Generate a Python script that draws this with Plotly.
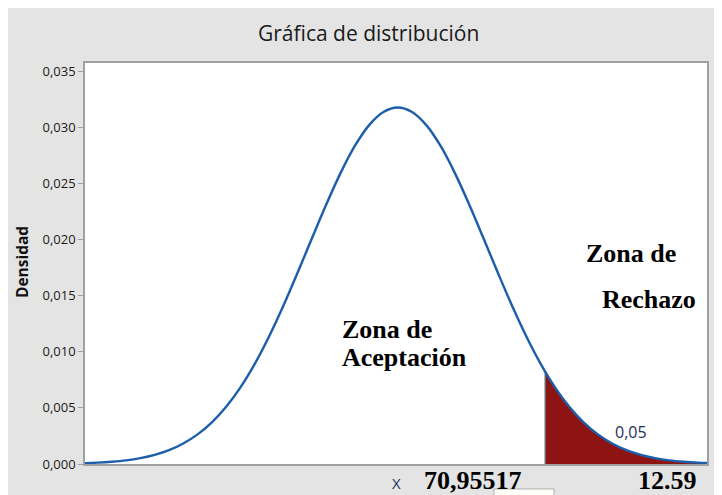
import plotly.graph_objects as go

# Curve values (x in variable units, density)
x_vals = [-44, -42, -40, -38, -36, -34, -32, -30, -28, -26, -24, -22, -20, -18, -16, -14, -12, -10, -8, -6, -4, -2,
          0, 2, 4, 6, 8, 10, 12, 14, 16, 18, 20, 22, 24, 26, 28, 30, 32, 34, 36, 38, 40, 42, 44]
density = [0.00007, 0.00012, 0.00020, 0.00032, 0.00052, 0.00081, 0.00123, 0.00183, 0.00264, 0.00372, 0.00511,
           0.00684, 0.00893, 0.01137, 0.01411, 0.01707, 0.02013, 0.02314, 0.02594, 0.02836, 0.03022, 0.03139,
           0.03179, 0.03139, 0.03022, 0.02836, 0.02594, 0.02314, 0.02013, 0.01707, 0.01411, 0.01137, 0.00893,
           0.00684, 0.00511, 0.00372, 0.00264, 0.00183, 0.00123, 0.00081, 0.00052, 0.00032, 0.00020, 0.00012, 0.00007]

crit_x = 20.64
crit_density = 0.00822
tail_area_label = "0,05"
y_ticks = [0, 0.005, 0.010, 0.015, 0.020, 0.025, 0.030, 0.035]
y_tick_text = ["0,000", "0,005", "0,010", "0,015", "0,020", "0,025", "0,030", "0,035"]

tail_x = [crit_x] + [x for x in x_vals if x > crit_x]
tail_y = [crit_density] + [d for x, d in zip(x_vals, density) if x > crit_x]

fig = go.Figure()
fig.add_trace(go.Scatter(x=tail_x, y=tail_y, mode="lines", fill="tozeroy",
                         fillcolor="#8e1414", line=dict(color="#8e1414", width=0, shape="spline"),
                         hoverinfo="skip", showlegend=False))
fig.add_trace(go.Scatter(x=[crit_x, crit_x], y=[0, crit_density], mode="lines",
                         line=dict(color="#6a6a6a", width=1.5), showlegend=False))
fig.add_trace(go.Scatter(x=x_vals, y=density, mode="lines",
                         line=dict(color="#1c5eaa", width=2.4, shape="spline"), showlegend=False))

sans = "Open Sans, Noto Sans, sans-serif"
serif = dict(family="Liberation Serif, Times New Roman, serif", size=26, color="#000000")
mid = dict(xanchor="center", yanchor="middle", showarrow=False)
ann = [
    dict(text="Gráfica de distribución", xref="paper", yref="paper", x=0.455, y=1.0748,
         font=dict(family=sans, size=21, color="#1a1a1a"), **mid),
    dict(text="<b>Densidad</b>", xref="paper", yref="paper", x=-0.101, y=0.504, textangle=-90,
         font=dict(family=sans, size=15.5, color="#111111"), **mid),
    dict(text="<b>Zona de</b>", x=32.64, y=0.01875, font=serif, **mid),
    dict(text="<b>Rechazo</b>", x=35.15, y=0.01464, font=serif, **mid),
    dict(text="<b>Zona de</b>", x=-8.08, y=0.01196, xanchor="left", yanchor="middle", showarrow=False, font=serif),
    dict(text="<b>Aceptación</b>", x=-8.08, y=0.00946, xanchor="left", yanchor="middle", showarrow=False, font=serif),
    dict(text=tail_area_label, x=32.64, y=0.00286,
         font=dict(family=sans, size=16, color="#1f2f5a"), **mid),
    dict(text="X", xref="paper", yref="paper", x=0.5, y=-0.0474,
         font=dict(family=sans, size=15, color="#1f2f5a"), **mid),
    dict(text="<b>70,95517</b>", xref="paper", yref="paper", x=0.6238, y=-0.042, font=serif, **mid),
    dict(text="<b>12.59</b>", xref="paper", yref="paper", x=0.937, y=-0.042, font=serif, **mid),
]

shapes = [
    dict(type="rect", xref="paper", yref="paper", x0=0.6576, x1=0.754, y0=-0.09, y1=-0.0623,
         fillcolor="#fffffa", line=dict(width=1, color="#b0b0b0")),
]
fig.update_layout(
    width=714, height=487,
    margin=dict(l=77, r=15, t=55, b=31),
    paper_bgcolor="#e4e4e4", plot_bgcolor="white",
    annotations=ann, shapes=shapes,
    xaxis=dict(range=[-43.75, 43.27], showticklabels=False, ticks="", showgrid=False, zeroline=False,
               showline=True, linecolor="#a0a0a0", linewidth=1.5, mirror=True),
    yaxis=dict(range=[0, 0.03576], tickvals=y_ticks, ticktext=y_tick_text, ticks="outside", ticklen=5,
               tickcolor="#a0a0a0", showgrid=False, zeroline=False, showline=True, linecolor="#a0a0a0",
               linewidth=1.5, mirror=True,
               tickfont=dict(family=sans, size=13, color="#1a1a1a")),
)
fig.write_html("out.html")
